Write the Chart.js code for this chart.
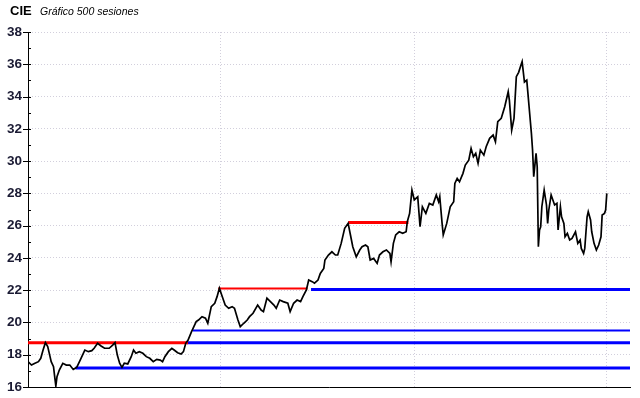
<!DOCTYPE html>
<html>
<head>
<meta charset="utf-8">
<script src="https://cdn.jsdelivr.net/npm/chart.js@4.4.0/dist/chart.umd.min.js"></script>
<style>
  body { margin: 0; background: #fff; }
  #wrap { position: relative; width: 640px; height: 398px; }
  #title { position: absolute; left: 10px; top: 3px; font: bold 13px "Liberation Sans", Arial, sans-serif; color: #000; }
  #sub { position: absolute; left: 40px; top: 5px; font: italic 10.5px "Liberation Sans", Arial, sans-serif; color: #000; }
</style>
</head>
<body>
<div id="wrap">
  <canvas id="cie_chart" width="640" height="398"></canvas>
  <div id="title">CIE</div>
  <div id="sub">Gráfico 500 sesiones</div>
</div>
<script>
// sesiones (indice) y cierres
let sessions = [
  0, 3, 6, 9, 11, 13, 15, 17, 19, 20,
  22, 23, 24, 25, 27, 30, 33, 36, 39, 42,
  45, 47, 49, 52, 55, 57, 60, 63, 66, 70,
  73, 75, 77, 79, 81, 83, 86, 89, 91, 93,
  96, 99, 102, 105, 108, 111, 114, 116, 118, 121,
  124, 126, 129, 132, 134, 136, 138, 141, 143, 145,
  147, 150, 153, 155, 158, 161, 163, 165, 167, 170,
  173, 176, 178, 181, 183, 186, 189, 191, 194, 198,
  201, 203, 206, 209, 212, 214, 217, 220, 224, 226,
  229, 232, 235, 237, 240, 242, 245, 247, 250, 252,
  255, 256, 259, 262, 265, 267, 270, 273, 276, 278,
  280, 283, 286, 288, 291, 293, 295, 298, 301, 303,
  306, 309, 312, 313, 315, 317, 320, 323, 326, 327,
  329, 331, 333, 336, 338, 340, 343, 346, 349, 352,
  354, 355, 357, 358, 361, 364, 367, 368, 370, 372,
  375, 377, 380, 382, 384, 386, 388, 390, 393, 395,
  398, 401, 403, 405, 408, 411, 414, 415, 417, 419,
  421, 423, 425, 426, 428, 430, 431, 432, 434, 435,
  436, 438, 439, 440, 441, 442, 443, 445, 447, 448,
  449, 451, 454, 456, 457, 459, 460, 462, 463, 465,
  467, 469, 472, 474, 476, 477, 479, 480, 482, 483,
  485, 486, 488, 490, 492, 494, 495, 497, 498, 499
];
let closes = [
  17.57, 17.36, 17.47, 17.57, 17.78, 18.29, 18.75, 18.50, 17.88, 17.57,
  17.26, 16.64, 16.06, 16.64, 17.05, 17.47, 17.36, 17.36, 17.09, 17.22,
  17.67, 17.98, 18.29, 18.19, 18.25, 18.40, 18.71, 18.54, 18.40, 18.40,
  18.60, 18.75, 17.98, 17.47, 17.22, 17.47, 17.43, 17.88, 18.29, 18.09,
  18.19, 18.09, 17.88, 17.78, 17.57, 17.71, 17.67, 17.57, 17.88, 18.19,
  18.40, 18.29, 18.12, 18.04, 18.19, 18.71, 18.91, 19.43, 19.74, 20.05,
  20.15, 20.36, 20.26, 19.95, 20.98, 21.19, 21.60, 22.12, 21.70, 21.08,
  20.88, 20.98, 20.88, 20.15, 19.74, 19.95, 20.15, 20.36, 20.57, 21.08,
  20.77, 20.67, 21.50, 21.29, 21.08, 20.88, 21.39, 21.29, 21.19, 20.67,
  21.19, 21.39, 21.29, 21.60, 22.01, 22.63, 22.53, 22.43, 22.63, 23.04,
  23.35, 23.87, 24.18, 24.38, 24.18, 24.18, 24.90, 25.83, 26.14, 25.42,
  24.69, 24.07, 24.49, 24.69, 24.80, 24.69, 23.87, 23.97, 23.66, 24.18,
  24.38, 24.49, 24.28, 23.76, 24.90, 25.42, 25.62, 25.52, 25.62, 26.24,
  26.76, 28.20, 27.59, 27.79, 25.93, 27.17, 26.76, 27.38, 27.28, 27.90,
  27.48, 27.79, 26.14, 25.42, 26.14, 27.17, 27.48, 28.62, 28.93, 28.72,
  29.24, 29.75, 30.06, 30.79, 30.27, 30.48, 29.86, 30.68, 30.37, 30.89,
  31.41, 31.61, 31.20, 32.44, 32.65, 33.37, 34.30, 33.78, 31.92, 32.65,
  35.23, 35.50, 35.95, 36.16, 34.90, 35.02, 34.20, 33.37, 31.72, 30.68,
  29.03, 30.48, 29.65, 24.69, 25.73, 25.93, 27.17, 28.20, 27.28, 26.14,
  26.97, 27.90, 27.28, 27.38, 25.73, 27.17, 26.55, 26.14, 25.31, 25.52,
  25.11, 25.21, 25.62, 24.90, 25.11, 24.59, 24.28, 24.59, 26.55, 26.86,
  26.35, 25.62, 24.90, 24.49, 24.80, 25.31, 26.66, 26.76, 26.97, 28.00
];

// soportes (azul) y resistencias (rojo)
let levelPrices = [18.75, 17.18, 18.75, 19.50, 22.10, 22.05, 26.20];
let levelFrom   = [0, 41, 137, 142, 164, 244, 276];
let levelTo     = [138, 519, 519, 519, 241, 519, 328];
let levelKind   = ["res", "sup", "sup", "sup", "res", "sup", "res"];

let yTicks = [16, 18, 20, 22, 24, 26, 28, 30, 32, 34, 36, 38];
let xGrid = [0, 166, 333, 499];

const gridColor = "#d2cfdc";
const lineWidths = [3, 3, 3, 2, 2, 3, 3];

let datasets = [{
  data: sessions.map((s, i) => ({ x: s, y: closes[i] })),
  borderColor: "#000",
  borderWidth: 1.7,
  pointRadius: 0,
  tension: 0,
  order: 0
}];
levelPrices.forEach((p, i) => {
  datasets.push({
    data: [{ x: levelFrom[i], y: p }, { x: levelTo[i], y: p }],
    borderColor: levelKind[i] === "res" ? "#ff0000" : "#0000ff",
    borderWidth: lineWidths[i],
    pointRadius: 0,
    order: 1
  });
});

// marcas del eje Y: mayores cruzan el eje, menores hacia dentro
const yTickMarks = {
  id: "yTickMarks",
  afterDraw(chart) {
    const ctx = chart.ctx;
    const y = chart.scales.y;
    const left = chart.chartArea.left;
    ctx.save();
    ctx.strokeStyle = "#000";
    ctx.lineWidth = 1;
    for (let v = y.min; v <= y.max; v++) {
      const py = Math.round(y.getPixelForValue(v)) + 0.5;
      ctx.beginPath();
      if (yTicks.includes(v)) {
        ctx.moveTo(left - 5, py);
        ctx.lineTo(left + 3, py);
      } else {
        ctx.moveTo(left, py);
        ctx.lineTo(left + 3, py);
      }
      ctx.stroke();
    }
    ctx.restore();
  }
};

let ctx = document.getElementById("cie_chart");
let cieChart = new Chart(ctx, {
  type: "line",
  data: { datasets: datasets },
  plugins: [yTickMarks],
  options: {
    responsive: false,
    animation: false,
    layout: { padding: { top: 32, right: 10, bottom: 11, left: 0 } },
    plugins: { legend: { display: false }, tooltip: { enabled: false } },
    scales: {
      x: {
        type: "linear",
        min: 0,
        max: 519,
        afterBuildTicks: (scale) => { scale.ticks = xGrid.map(v => ({ value: v })); },
        afterFit: (scale) => { scale.height = 0; scale.paddingLeft = 0; scale.paddingRight = 0; },
        ticks: { display: false },
        grid: { color: gridColor, drawTicks: false },
        border: { display: true, color: "#000", width: 1, dash: [1, 2] }
      },
      y: {
        min: 16,
        max: 38,
        afterBuildTicks: (scale) => { scale.ticks = yTicks.map(v => ({ value: v })); },
        afterFit: (scale) => { scale.width = 28; scale.paddingTop = 0; scale.paddingBottom = 0; },
        ticks: {
          padding: 6,
          color: "#1a1a33",
          font: { family: "Liberation Sans", size: 13.5, weight: "bold" }
        },
        grid: { color: gridColor, drawTicks: false },
        border: { display: true, color: "#000", width: 1, dash: [1, 2] }
      }
    }
  }
});
</script>
</body>
</html>
